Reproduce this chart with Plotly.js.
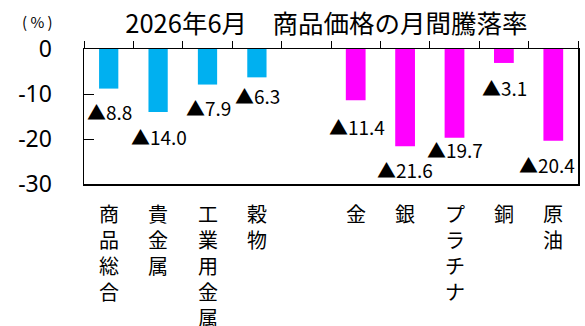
<!DOCTYPE html>
<html>
<head>
<meta charset="utf-8">
<script src="https://cdn.plot.ly/plotly-3.0.1.min.js"></script>
<style>html,body{margin:0;padding:0;background:#fff;}#chart{width:585px;height:326px;}</style>
</head>
<body>
<div id="chart"></div>
<script>
// ---- data ----
const categories = ['商品総合', '貴金属', '工業用金属', '穀物', ' ', '金', '銀', 'プラチナ', '銅', '原油'];
const indexCategories = ['商品総合', '貴金属', '工業用金属', '穀物'];
const indexValues = [-8.8, -14.0, -7.9, -6.3];
const commodityCategories = ['金', '銀', 'プラチナ', '銅', '原油'];
const commodityValues = [-11.4, -21.6, -19.7, -3.1, -20.4];
const yTickValues = [0, -10, -20, -30];

// ---- label placement (pixels, style only) ----
const indexLabelShift = [-23, -24, -23, -18];
const commodityLabelShift = [-26, -23, -12, -25, -24];
const commodityLabelXShift = [1, 0, 0, 1, -6];

const jp = '"Noto Sans CJK JP", "Noto Sans", sans-serif';
const num = '"Noto Sans", "Liberation Sans", sans-serif';

const traces = [
  {type: 'bar', x: indexCategories, y: indexValues, width: 0.39,
   marker: {color: '#00B0F0'}, hoverinfo: 'x+y'},
  {type: 'bar', x: commodityCategories, y: commodityValues, width: 0.40,
   marker: {color: '#FF00FF'}, hoverinfo: 'x+y'}
];

function fmt(v) { return (v < 0 ? '▲' : '') + Math.abs(v).toFixed(1); }

const annotations = [];
indexCategories.forEach((c, i) => annotations.push({
  x: c, y: indexValues[i], xref: 'x', yref: 'y', text: fmt(indexValues[i]),
  showarrow: false, yanchor: 'middle', xanchor: 'center', yshift: indexLabelShift[i], xshift: 1,
  font: {family: jp, size: 19, color: '#000'}
}));
commodityCategories.forEach((c, i) => annotations.push({
  x: c, y: commodityValues[i], xref: 'x', yref: 'y', text: fmt(commodityValues[i]),
  showarrow: false, yanchor: 'middle', xanchor: 'center', yshift: commodityLabelShift[i], xshift: commodityLabelXShift[i],
  font: {family: jp, size: 19, color: '#000'}
}));
// vertical category labels
categories.forEach(c => {
  if (!c.trim()) return;
  annotations.push({
    x: c, y: 0, xref: 'x', yref: 'paper', text: c.split('').join('<br>'),
    showarrow: false, yanchor: 'top', xanchor: 'center', yshift: -13,
    font: {family: jp, size: 20, color: '#000'}
  });
});
annotations.push({
  x: 0, y: 1, xref: 'paper', yref: 'paper', xanchor: 'center', yanchor: 'middle',
  xshift: -47, yshift: 28, text: '( % )', showarrow: false,
  font: {family: jp, size: 15, color: '#000'}
});

const layout = {
  width: 585, height: 326,
  margin: {l: 84, r: 7, t: 49, b: 142},
  paper_bgcolor: '#fff', plot_bgcolor: '#fff',
  showlegend: false,
  barmode: 'overlay',
  title: {text: '2026年6月　商品価格の月間騰落率', x: 0.558, xanchor: 'center', y: 0.925, yanchor: 'middle',
          font: {family: jp, size: 25.5, color: '#000'}},
  xaxis: {
    type: 'category', categoryorder: 'array', categoryarray: categories,
    range: [-0.5, categories.length - 0.5],
    side: 'top', showticklabels: false,
    ticks: 'outside', tickson: 'boundaries', ticklen: 7, tickcolor: '#000', tickwidth: 1,
    showline: true, linecolor: '#000', linewidth: 1.5, mirror: true,
    showgrid: false, zeroline: false, fixedrange: true
  },
  yaxis: {
    range: [-30, 0], tickvals: yTickValues, ticktext: yTickValues.map(String),
    ticks: 'inside', ticklen: 10, tickcolor: '#000',
    showline: true, linecolor: '#000', linewidth: 1.5, mirror: true,
    showgrid: false, zeroline: false, ticklabelstandoff: 26,
    tickfont: {family: num, size: 23, color: '#000'}, fixedrange: true
  },
  annotations: annotations
};

Plotly.newPlot('chart', traces, layout, {displayModeBar: false, staticPlot: true});
</script>
</body>
</html>
